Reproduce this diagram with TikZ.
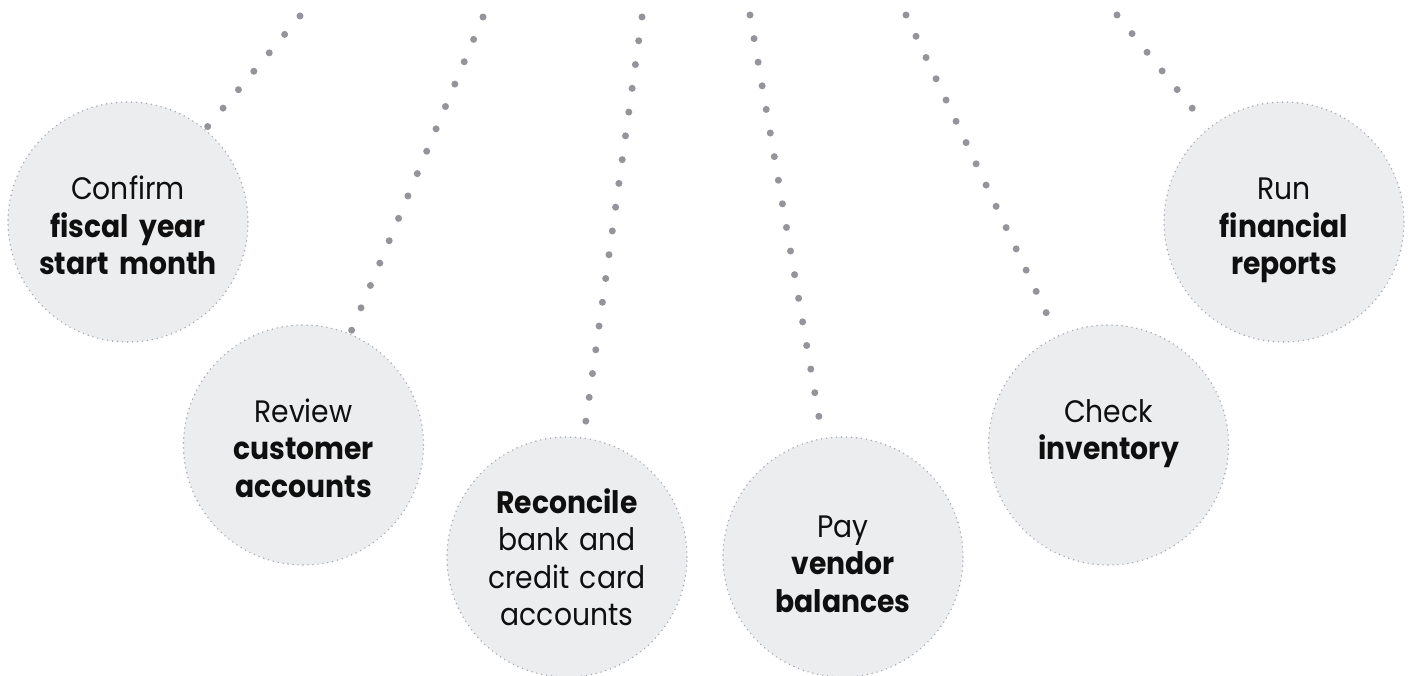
\documentclass[tikz,border=0pt]{standalone}
\usepackage{fontspec}
\setmainfont{Poppins}[FakeStretch=0.91]
\definecolor{bubblefill}{RGB}{236,237,239}
\definecolor{bubbleedge}{RGB}{165,168,176}
\definecolor{beadgray}{RGB}{148,149,155}
\definecolor{ink}{RGB}{15,15,15}
\begin{document}
\begin{tikzpicture}[x=1pt,y=-1pt,
  bubble/.style={circle, minimum size=240pt, inner sep=0pt, fill=bubblefill,
    draw=bubbleedge, line width=1.6pt, line cap=round, dash pattern=on 0pt off 5pt},
  caption/.style={anchor=base, text width=236pt, align=center, inner sep=0pt,
    text=ink, font=\fontsize{31}{37.5}\selectfont},
  beads/.style={draw=beadgray, line width=7pt, line cap=round,
    dash pattern=on 0pt off #1, shorten >=3pt},
  beads/.default=24pt]

% canvas
\fill[white] (0,0) rectangle (1413,676);
\useasboundingbox (0,0) rectangle (1413,676);

% step bubbles
\node[bubble] (c1) at (128,222) {};
\node[bubble] (c2) at (303.5,445) {};
\node[bubble] (c3) at (567,557) {};
\node[bubble] (c4) at (843,557) {};
\node[bubble] (c5) at (1108.5,445) {};
\node[bubble] (c6) at (1284,222) {};

% step captions
\node[caption] (l1) at (128,200) {Confirm\\\textbf{fiscal year}\\\textbf{start month}};
\node[caption] (l2) at (303.5,422) {Review\\\textbf{customer}\\\textbf{accounts}};
\node[caption] (l3) at (567,513) {\textbf{Reconcile}\\bank and\\credit card\\accounts};
\node[caption] (l4) at (843,537) {Pay\\\textbf{vendor}\\\textbf{balances}};
\node[caption] (l5) at (1108.5,422) {Check\\\textbf{inventory}};
\node[caption] (l6) at (1284,200) {Run\\\textbf{financial}\\\textbf{reports}};

% hanging strings of beads
\coordinate (t1) at (300,16);
\coordinate (t2) at (483,17);
\coordinate (t3) at (642,17);
\coordinate (t4) at (750,15);
\coordinate (t5) at (906,15);
\coordinate (t6) at (1117,15);

\draw[beads] (t1) -- (c1);
\draw[beads=24.26pt] (t2) -- (c2);
\draw[beads] (t3) -- (c3);
\draw[beads=23.95pt] (t4) -- (c4);
\draw[beads=23.5pt] (t5) -- (c5);
\draw[beads=23.95pt] (t6) -- (c6);
\end{tikzpicture}
\end{document}
